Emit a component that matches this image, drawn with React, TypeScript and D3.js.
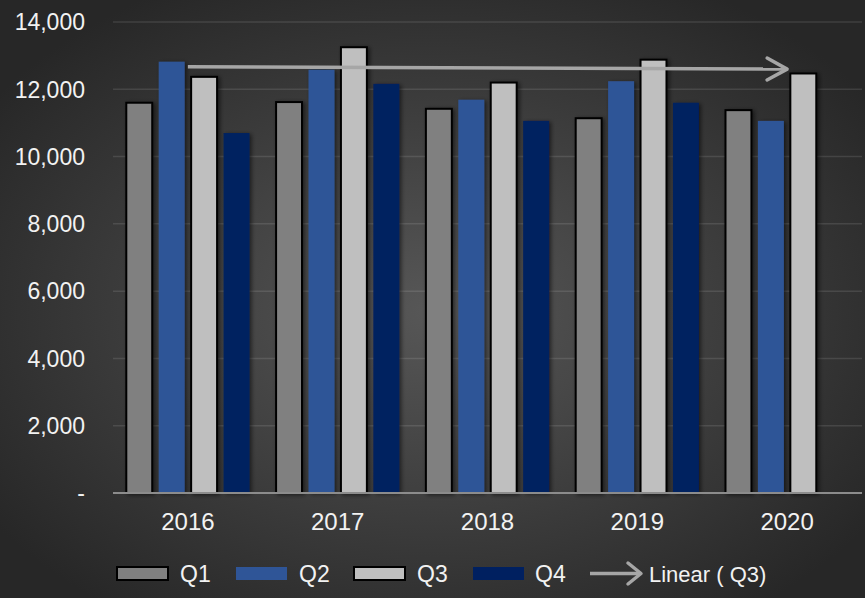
import React from "react";
import * as d3 from "d3";

const years = ["2016", "2017", "2018", "2019", "2020"];
const quarters = ["Q1", "Q2", "Q3", "Q4"];
const q1 = [11600, 11620, 11420, 11140, 11380];
const q2 = [12820, 12580, 11690, 12240, 11060];
const q3 = [12370, 13250, 12200, 12880, 12470];
const q4 = [10700, 12160, 11060, 11600, null];
const yTicks = [0, 2000, 4000, 6000, 8000, 10000, 12000, 14000];

const series = [q1, q2, q3, q4];
const fills = ["#808080", "#2f5597", "#bfbfbf", "#002060"];
const outlined = [true, false, true, false];

const W = 865;
const H = 598;

const App: React.FC = () => {
  const x = d3.scaleBand<string>().domain(years).range([113, 862]);
  const xq = d3
    .scaleBand<string>()
    .domain(quarters)
    .range([0, x.bandwidth()])
    .paddingInner(0.2)
    .paddingOuter(0.41);
  const y = d3.scaleLinear().domain([0, 14000]).range([493, 22]);
  const fmt = d3.format(",");

  // linear trend of Q3 (least squares)
  const idx = years.map((_, i) => i);
  const mx = d3.mean(idx) as number;
  const my = d3.mean(q3) as number;
  const slope =
    d3.sum(idx, (i) => (i - mx) * (q3[i] - my)) /
    d3.sum(idx, (i) => (i - mx) * (i - mx));
  const trend = (i: number) => my + slope * (i - mx);
  const cx = (yr: string) => (x(yr) as number) + x.bandwidth() / 2;
  const x0 = cx(years[0]);
  const x1 = cx(years[years.length - 1]);
  const y0 = y(trend(0));
  const y1 = y(trend(years.length - 1));
  const ang = Math.atan2(y1 - y0, x1 - x0);
  const head = (len: number, half: number) => {
    const c = Math.cos(ang);
    const s = Math.sin(ang);
    return `M${x1 - len * c + half * s},${y1 - len * s - half * c}L${x1},${y1}L${x1 - len * c - half * s},${y1 - len * s + half * c}`;
  };

  const legendItems = [
    { label: "Q1", sx: 117, tx: 180, i: 0 },
    { label: "Q2", sx: 236, tx: 299, i: 1 },
    { label: "Q3", sx: 354, tx: 417, i: 2 },
    { label: "Q4", sx: 473, tx: 535, i: 3 },
  ];

  return (
    <div>
      <style>{`body{margin:0;background:#2a2a2a}`}</style>
      <svg width={W} height={H} style={{ display: "block" }} fontFamily="'Liberation Sans', Arial, sans-serif">
        <defs>
          <radialGradient id="bg" cx="50%" cy="52%" r="62%">
            <stop offset="0%" stopColor="#575757" />
            <stop offset="100%" stopColor="#272727" />
          </radialGradient>
          <filter id="sh" x="-30%" y="-10%" width="160%" height="120%">
            <feDropShadow dx="2" dy="1" stdDeviation="2" floodColor="#000" floodOpacity="0.55" />
          </filter>
        </defs>
        <rect width={W} height={H} fill="url(#bg)" />

        {/* gridlines */}
        {yTicks.slice(1).map((t) => (
          <line key={t} x1={113} x2={862} y1={y(t)} y2={y(t)} stroke="#ffffff" strokeOpacity={0.11} strokeWidth={1.5} />
        ))}

        {/* y labels */}
        {yTicks.map((t) => (
          <text key={t} x={85} y={y(t)} dy="0.36em" textAnchor="end" fill="#f2f2f2" fontSize={23}>
            {t === 0 ? "-" : fmt(t)}
          </text>
        ))}

        {/* bars */}
        {years.map((yr, yi) => (
          <g key={yr} transform={`translate(${x(yr)},0)`}>
            {quarters.map((q, qi) => {
              const v = series[qi][yi];
              if (v == null) return null;
              return (
                <rect
                  key={q}
                  x={xq(q) as number}
                  y={y(v)}
                  width={xq.bandwidth()}
                  height={y(0) - y(v)}
                  fill={fills[qi]}
                  stroke={outlined[qi] ? "#000" : "none"}
                  strokeWidth={2}
                  filter="url(#sh)"
                />
              );
            })}
          </g>
        ))}

        {/* axis line */}
        <line x1={113} x2={862} y1={y(0)} y2={y(0)} stroke="#8c8c8c" strokeWidth={2} />

        {/* x labels */}
        {years.map((yr) => (
          <text key={yr} x={cx(yr)} y={530} textAnchor="middle" fill="#f2f2f2" fontSize={24}>
            {yr}
          </text>
        ))}

        {/* trendline */}
        <line x1={x0} y1={y0} x2={x1 - 2} y2={y1} stroke="#a6a6a6" strokeWidth={3.5} />
        <path d={head(20, 11)} fill="none" stroke="#a6a6a6" strokeWidth={3.5} strokeLinecap="round" strokeLinejoin="round" />

        {/* legend */}
        {legendItems.map((l) => (
          <g key={l.label}>
            <rect
              x={l.sx}
              y={567}
              width={51}
              height={13}
              fill={fills[l.i]}
              stroke={outlined[l.i] ? "#000" : "none"}
              strokeWidth={2}
            />
            <text x={l.tx} y={582} fill="#f2f2f2" fontSize={23}>
              {l.label}
            </text>
          </g>
        ))}
        <line x1={590} x2={640} y1={573.5} y2={573.5} stroke="#a6a6a6" strokeWidth={3.5} />
        <path d="M628,563L641,573.5L628,584" fill="none" stroke="#a6a6a6" strokeWidth={3.5} strokeLinecap="round" strokeLinejoin="round" />
        <text x={649} y={582} fill="#f2f2f2" fontSize={22}>
          Linear ( Q3)
        </text>
      </svg>
    </div>
  );
};

export default App;
